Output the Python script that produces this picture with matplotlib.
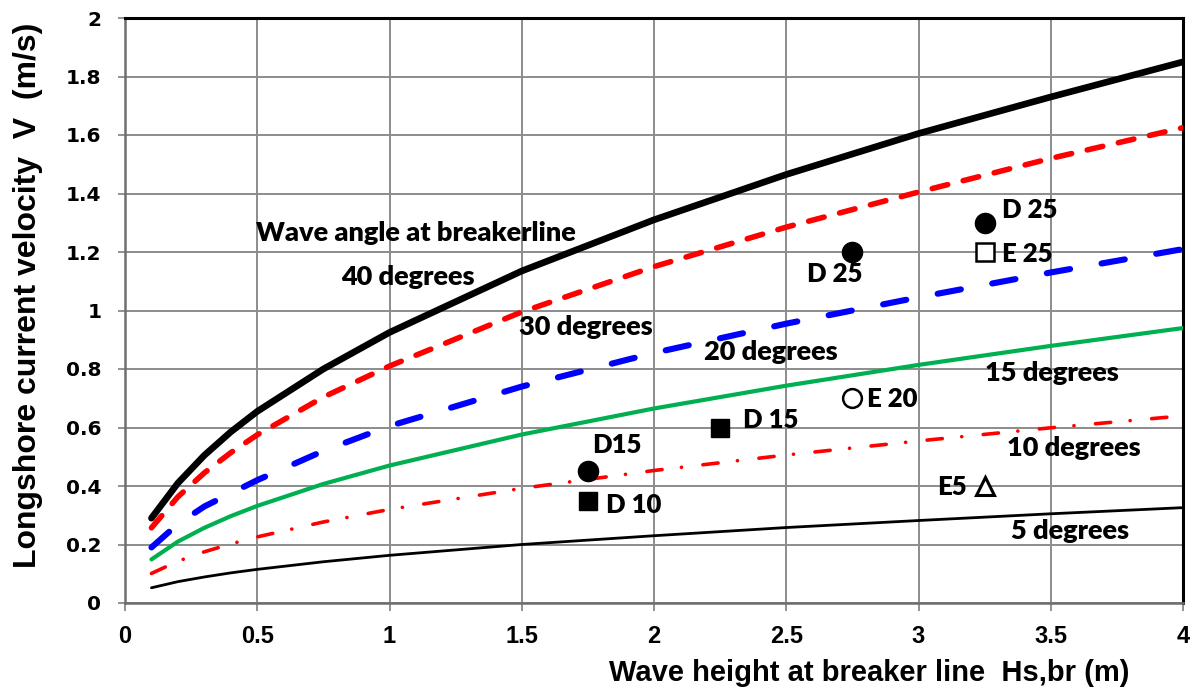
import matplotlib
matplotlib.use("Agg")
import matplotlib.pyplot as plt

plt.rcParams['lines.scale_dashes'] = False

# ---- data ----
H = [0.1, 0.2, 0.3, 0.4, 0.5, 0.75, 1.0, 1.5, 2.0, 2.5, 3.0, 3.5, 4.0]
v40 = [0.29, 0.41, 0.505, 0.585, 0.655, 0.80, 0.925, 1.135, 1.31, 1.465, 1.605, 1.73, 1.85]
v30 = [0.257, 0.363, 0.445, 0.514, 0.575, 0.704, 0.81, 0.995, 1.15, 1.285, 1.405, 1.52, 1.625]
v20 = [0.19, 0.27, 0.33, 0.375, 0.42, 0.52, 0.605, 0.74, 0.855, 0.955, 1.045, 1.13, 1.21]
v15 = [0.149, 0.21, 0.257, 0.297, 0.332, 0.407, 0.47, 0.576, 0.665, 0.743, 0.814, 0.879, 0.94]
v10 = [0.101, 0.143, 0.175, 0.202, 0.226, 0.277, 0.32, 0.392, 0.453, 0.506, 0.554, 0.599, 0.64]
v05 = [0.052, 0.073, 0.089, 0.103, 0.115, 0.141, 0.163, 0.20, 0.23, 0.258, 0.282, 0.305, 0.326]

obs_filled_circle_x = [2.75, 3.25, 1.75]
obs_filled_circle_y = [1.20, 1.30, 0.45]
obs_filled_square_x = [2.25, 1.75]
obs_filled_square_y = [0.60, 0.35]
obs_open_square_x = [3.25]
obs_open_square_y = [1.20]
obs_open_circle_x = [2.75]
obs_open_circle_y = [0.70]
obs_open_tri_x = [3.25]
obs_open_tri_y = [0.40]

curve_labels = ["Wave angle at breakerline", "40 degrees", "30 degrees", "20 degrees",
                "15 degrees", "10 degrees", "5 degrees"]
curve_label_x = [1.10, 1.07, 1.743, 2.443, 3.505, 3.588, 3.573]
curve_label_y = [1.265, 1.115, 0.944, 0.858, 0.786, 0.530, 0.246]

point_labels = ["D 25", "D 25", "E 25", "E 20", "D 15", "D15", "D 10", "E5"]
point_label_x = [2.684, 3.42, 3.41, 2.90, 2.44, 1.86, 1.922, 3.127]
point_label_y = [1.125, 1.344, 1.193, 0.697, 0.626, 0.540, 0.335, 0.397]

xticks = [0, 0.5, 1, 1.5, 2, 2.5, 3, 3.5, 4]
xticklabels = ["0", "0.5", "1", "1.5", "2", "2.5", "3", "3.5", "4"]
yticks = [0, 0.2, 0.4, 0.6, 0.8, 1.0, 1.2, 1.4, 1.6, 1.8, 2.0]
yticklabels = ["0", "0.2", "0.4", "0.6", "0.8", "1", "1.2", "1.4", "1.6", "1.8", "2"]

# ---- figure ----
W, Hpx = 1193, 692
fig = plt.figure(figsize=(W / 100, Hpx / 100), dpi=100)
ax = fig.add_axes([125 / W, 1 - 603 / Hpx, (1183 - 125) / W, (603 - 18) / Hpx])
ax.set_xlim(0, 4)
ax.set_ylim(0, 2)

GRID = "#8c8c8c"
ax.set_axisbelow(True)
ax.grid(True, which="major", color=GRID, lw=1.4)

ax.plot(H, v05, color="black", lw=2.0, solid_capstyle="round", zorder=3)
l10, = ax.plot(H, v10, color="#ff0000", lw=2.6, dash_capstyle="round", zorder=3)
l10.set_dashes((11, 14, 0.1, 15.5))
ax.plot(H, v15, color="#00b050", lw=3.0, solid_capstyle="round", zorder=3)
l20, = ax.plot(H, v20, color="#0000ff", lw=4.4, dash_capstyle="round", zorder=3)
l20.set_dashes((17, 23))
l30, = ax.plot(H, v30, color="#ff0000", lw=4.0, dash_capstyle="round", zorder=3)
l30.set_dashes((11.5, 11.5))
ax.plot(H, v40, color="black", lw=4.8, solid_capstyle="round", zorder=4)

ax.plot(obs_filled_circle_x, obs_filled_circle_y, ls="none", marker="o", ms=14.5,
        mfc="black", mec="black", zorder=5)
ax.plot(obs_filled_square_x, obs_filled_square_y, ls="none", marker="s", ms=13.5,
        mfc="black", mec="black", zorder=5)
ax.plot(obs_open_square_x, obs_open_square_y, ls="none", marker="s", ms=12.5,
        mfc="white", mec="black", mew=1.8, zorder=5)
ax.plot(obs_open_circle_x, obs_open_circle_y, ls="none", marker="o", ms=13.5,
        mfc="white", mec="black", mew=1.8, zorder=5)
ax.plot(obs_open_tri_x, obs_open_tri_y, ls="none", marker="^", ms=13,
        mfc="white", mec="black", mew=2.2, zorder=5)

TFONT = ["Lato", "DejaVu Sans"]
for t, x, y in zip(curve_labels, curve_label_x, curve_label_y):
    ax.text(x, y, t, ha="center", va="center", fontsize=19.5, fontweight="heavy",
            family=TFONT, zorder=6)
for t, x, y in zip(point_labels, point_label_x, point_label_y):
    ax.text(x, y, t, ha="center", va="center", fontsize=18.5, fontweight="heavy",
            family=TFONT, zorder=6)

# axes styling
for s in ("left", "bottom"):
    ax.spines[s].set_color("#6f6f6f")
    ax.spines[s].set_linewidth(1.8)
for s in ("top", "right"):
    ax.spines[s].set_color("black")
    ax.spines[s].set_linewidth(2.2)

ax.set_xticks(xticks)
ax.set_xticklabels(xticklabels, fontsize=17, fontweight="bold", family=["Liberation Sans", "DejaVu Sans"])
ax.set_yticks(yticks)
ax.set_yticklabels(yticklabels, fontsize=14.5, fontweight="bold", family=["DejaVu Sans"])
ax.tick_params(axis="x", which="major", direction="out", length=6, width=1.2, color="#7f7f7f", pad=10)
ax.tick_params(axis="y", which="major", direction="out", length=5, width=1.2, color="#7f7f7f", pad=12)

LFONT = ["Liberation Sans Narrow", "Liberation Sans", "DejaVu Sans"]
fig.text(869 / W, 1 - 673 / Hpx, "Wave height at breaker line  Hs,br (m)", ha="center", va="center",
         fontsize=21, fontweight="bold", family=LFONT)
fig.text(28 / W, 1 - 295 / Hpx, "Longshore current velocity  V  (m/s)", ha="center", va="center",
         rotation=90, fontsize=23, fontweight="bold", family=LFONT)

fig.savefig("out.png", dpi=100)
